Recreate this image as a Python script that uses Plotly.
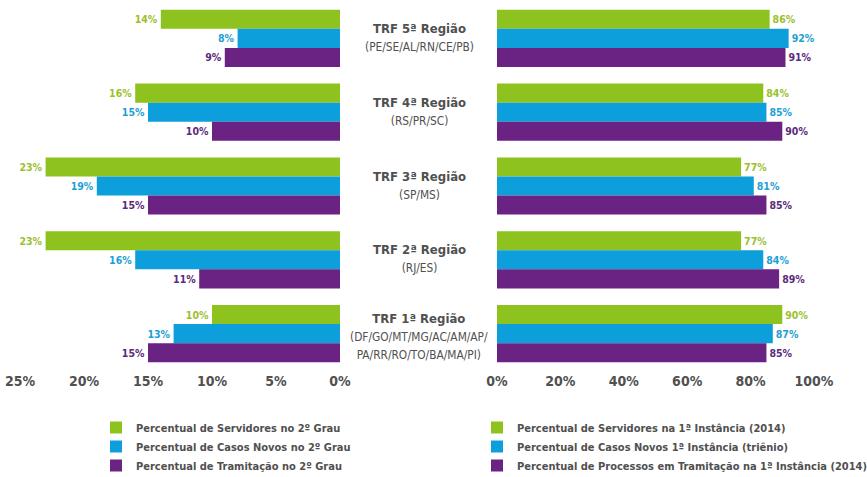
import plotly.graph_objects as go

regions = ["TRF 5ª Região", "TRF 4ª Região", "TRF 3ª Região", "TRF 2ª Região", "TRF 1ª Região"]
subtitles = ["(PE/SE/AL/RN/CE/PB)", "(RS/PR/SC)", "(SP/MS)", "(RJ/ES)",
             "(DF/GO/MT/MG/AC/AM/AP/<br>PA/RR/RO/TO/BA/MA/PI)"]

servidores_2g = [14, 16, 23, 23, 10]
casos_2g = [8, 15, 19, 16, 13]
tramitacao_2g = [9, 10, 15, 11, 15]

servidores_1i = [86, 84, 77, 77, 90]
casos_1i = [92, 85, 81, 84, 87]
tramitacao_1i = [91, 90, 85, 89, 85]

left_names = ["Percentual de Servidores no 2º Grau",
              "Percentual de Casos Novos no 2º Grau",
              "Percentual de Tramitação no 2º Grau"]
right_names = ["Percentual de Servidores na 1ª Instância (2014)",
               "Percentual de Casos Novos 1ª Instância (triênio)",
               "Percentual de Processos em Tramitação na 1ª Instância (2014)"]

left_ticks = [25, 20, 15, 10, 5, 0]
right_ticks = [0, 20, 40, 60, 80, 100]

bar_colors = ["#8dc21f", "#0d9fdc", "#6a2383"]
text_colors = ["#9cbf2e", "#1e9fd3", "#5b2a7c"]

FONT = "DejaVu Sans Condensed, sans-serif"
GRAY = "#505050"

fig = go.Figure()

for i, vals in enumerate([servidores_2g, casos_2g, tramitacao_2g]):
    fig.add_trace(go.Bar(
        y=regions, x=vals, orientation="h", name=left_names[i],
        marker=dict(color=bar_colors[i], line=dict(width=0)),
        text=[f"{v}%" for v in vals], textposition="outside",
        textfont=dict(family=FONT, size=10.5, color=text_colors[i], weight="bold"),
        cliponaxis=False, xaxis="x", yaxis="y",
        legend="legend", legendgroup=f"l{i}", hoverinfo="skip",
    ))

for i, vals in enumerate([servidores_1i, casos_1i, tramitacao_1i]):
    fig.add_trace(go.Bar(
        y=regions, x=vals, orientation="h", name=right_names[i],
        marker=dict(color=bar_colors[i], line=dict(width=0)),
        text=[f"{v}%" for v in vals], textposition="outside",
        textfont=dict(family=FONT, size=10.5, color=text_colors[i], weight="bold"),
        cliponaxis=False, xaxis="x2", yaxis="y2",
        legend="legend2", legendgroup=f"r{i}", hoverinfo="skip",
    ))

W, H = 867, 477
ydom = [1 - 370.5 / H, 1 - 1.5 / H]

for reg, sub in zip(regions, subtitles):
    fig.add_annotation(
        xref="paper", yref="y", x=419 / W, y=reg,
        yshift=-3 if "<br>" in sub else 1,
        text=f"<span style='font-size:13px'><b>{reg}</b></span><br>"
             f"<span style='font-size:11.8px'>{sub}</span>",
        showarrow=False, align="center", xanchor="center", yanchor="middle",
        font=dict(family=FONT, color=GRAY, size=14),
    )

axis_font = dict(family=FONT, size=14, color=GRAY, weight="bold")
legend_font = dict(family=FONT, size=11, color=GRAY, weight="bold")

fig.update_layout(
    width=W, height=H,
    margin=dict(l=0, r=0, t=0, b=0, autoexpand=False),
    paper_bgcolor="white", plot_bgcolor="white",
    barmode="group", bargap=0.225, bargroupgap=0,
    showlegend=True,
    xaxis=dict(domain=[20 / W, 340 / W], range=[25, 0], tickvals=left_ticks,
               ticktext=[f"{t}%" for t in left_ticks], showgrid=False,
               zeroline=False, showline=False, tickfont=axis_font, ticks=""),
    xaxis2=dict(domain=[497 / W, 814 / W], range=[0, 100], tickvals=right_ticks,
                ticktext=[f"{t}%" for t in right_ticks], showgrid=False,
                zeroline=False, showline=False, tickfont=axis_font, ticks=""),
    yaxis=dict(domain=ydom, autorange="reversed", showticklabels=False,
               showgrid=False, zeroline=False, anchor="x"),
    yaxis2=dict(domain=ydom, autorange="reversed", showticklabels=False,
                showgrid=False, zeroline=False, anchor="x2"),
    legend=dict(x=96 / W, y=1 - 413 / H, xanchor="left", yanchor="top",
                font=legend_font, tracegroupgap=2,
                bgcolor="rgba(0,0,0,0)", traceorder="normal"),
    legend2=dict(x=477 / W, y=1 - 413 / H, xanchor="left", yanchor="top",
                 font=legend_font, tracegroupgap=2,
                 bgcolor="rgba(0,0,0,0)", traceorder="normal"),
)

fig.write_html("out.html", config={"displayModeBar": False},
               post_script="document.body.style.margin='0px';")
